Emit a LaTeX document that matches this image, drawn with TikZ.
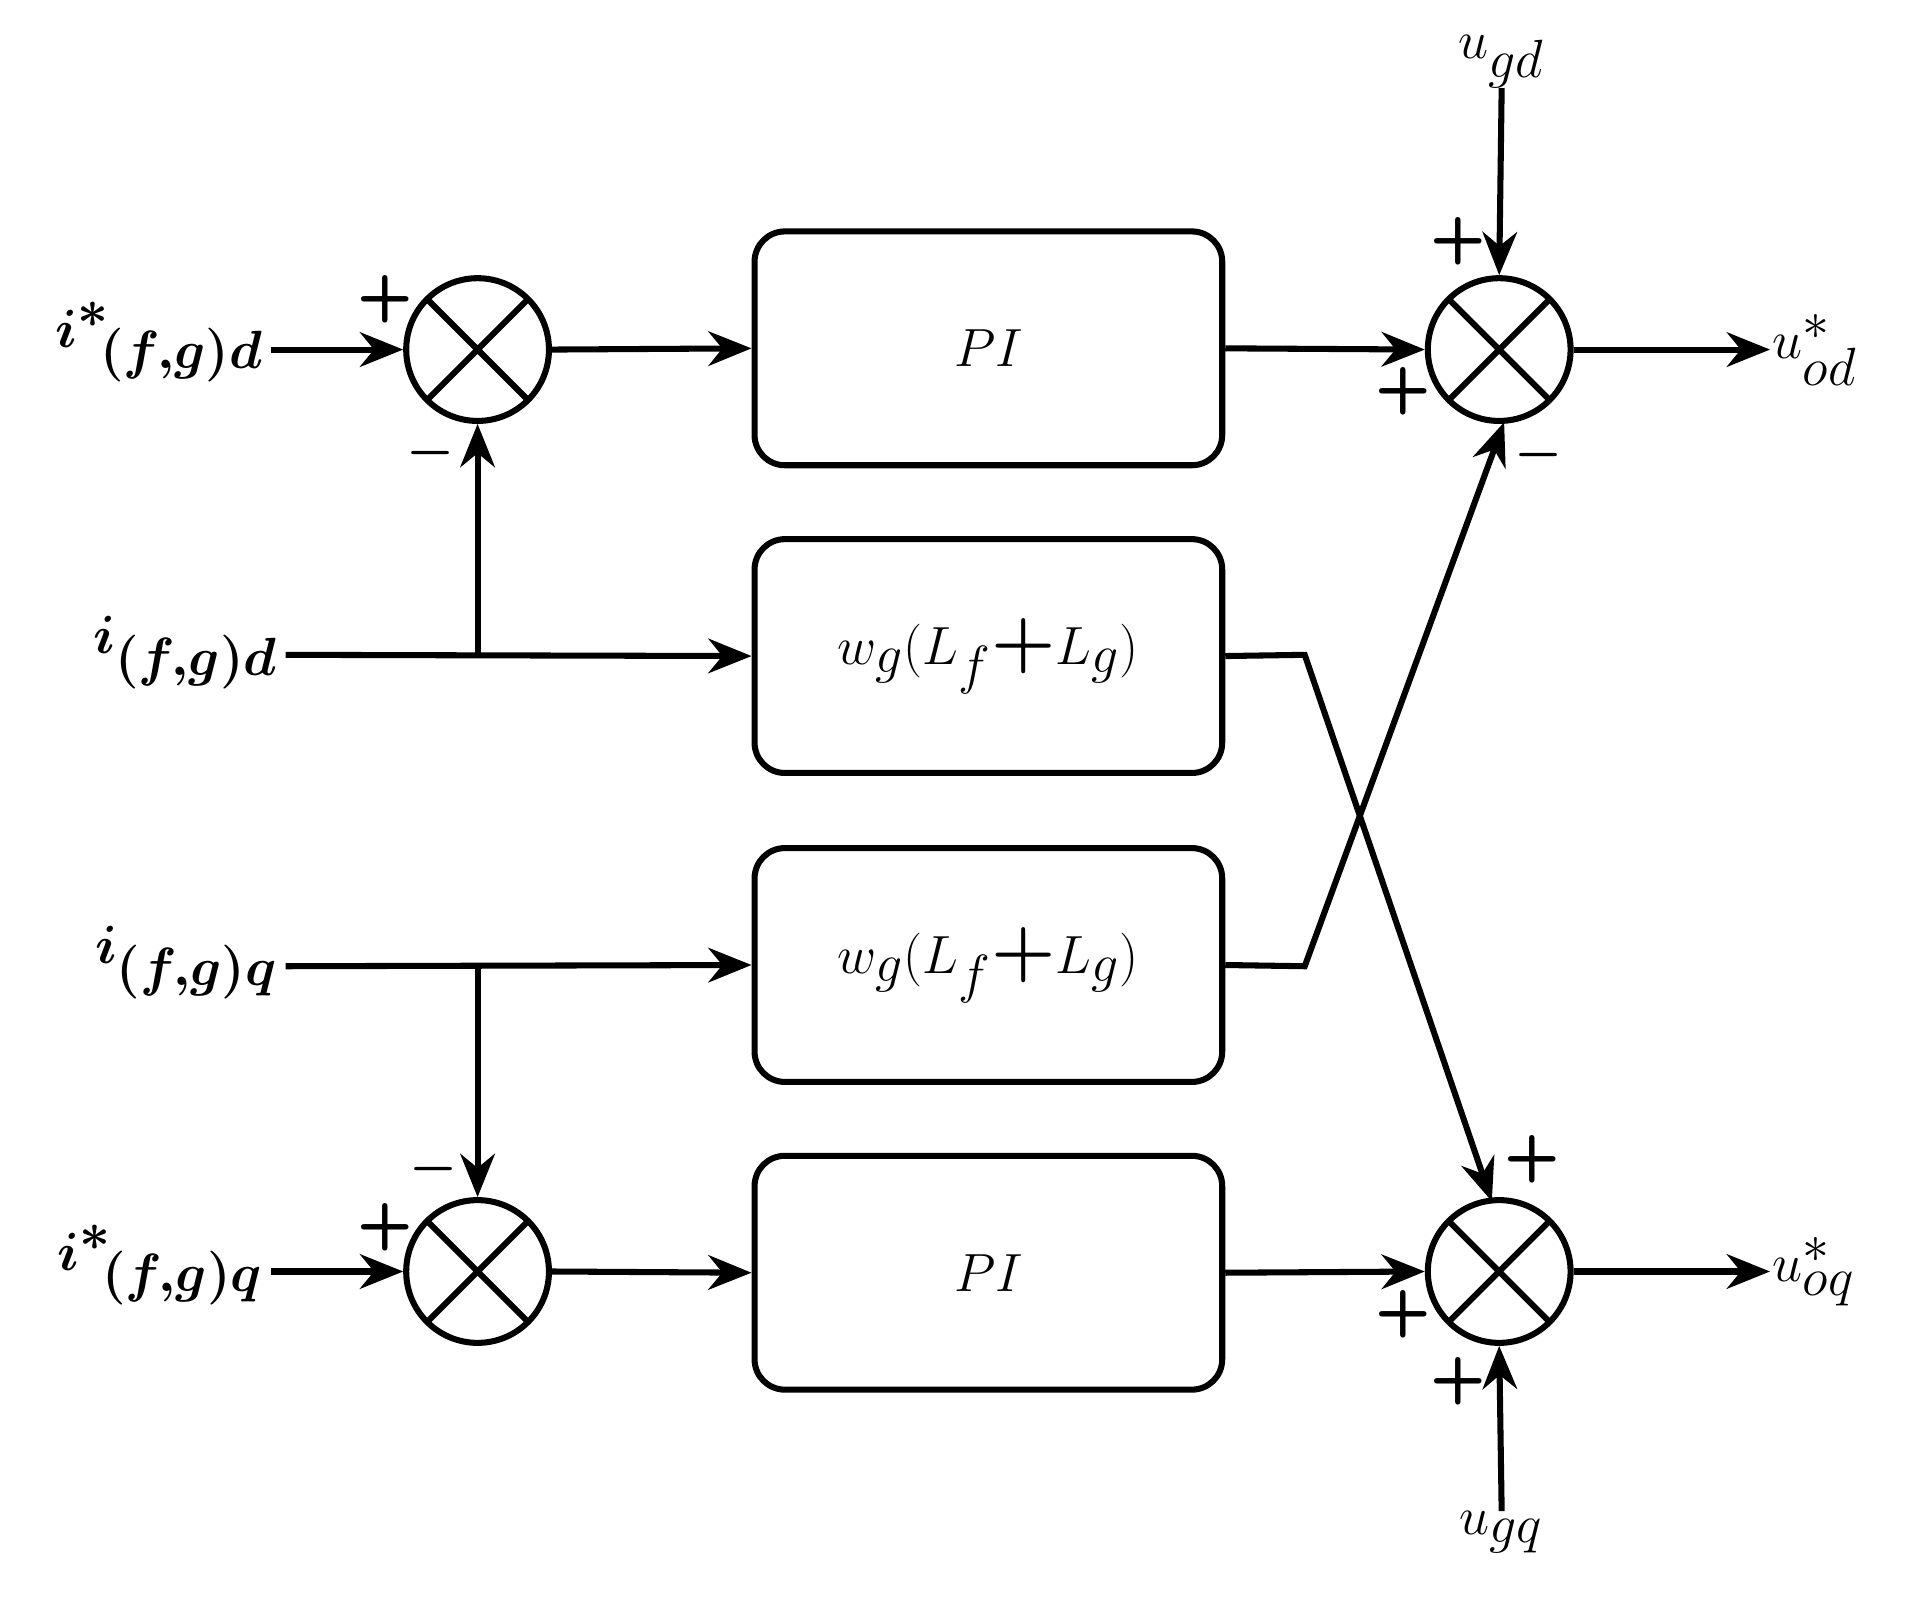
\documentclass[tikz,border=0pt]{standalone}
\usepackage{amsmath,bm}
\usetikzlibrary{arrows.meta}
\begin{document}
\begin{tikzpicture}[x=0.02cm,y=-0.02cm,
  ln/.style={line width=2.8pt},
  ar/.style={ln,-{Stealth[length=20pt,width=16pt]}},
  blk/.style={draw,line width=2.8pt,rounded corners=14pt,minimum width=7.6cm,minimum height=3.8cm,font=\fontsize{40}{48}\selectfont},
  sum/.style={draw,circle,line width=2.8pt,minimum size=2.32cm,inner sep=0pt,
    path picture={\draw[line width=2.8pt] (path picture bounding box.north west)--(path picture bounding box.south east) (path picture bounding box.north east)--(path picture bounding box.south west);}},
  lab/.style={font=\fontsize{44}{52}\selectfont,inner sep=0pt},
  sg/.style={font=\sffamily\bfseries\fontsize{30}{34}\selectfont,inner sep=0pt}]
\useasboundingbox (0,0) rectangle (1568,1311);
\node[sum] (s1) at (388,284) {};
\node[sum] (s2) at (1218,284) {};
\node[sum] (s3) at (388,1033) {};
\node[sum] (s4) at (1218,1033) {};
\node[blk] (b1) at (803,283) {$PI$};
\node[blk,font=\fontsize{34}{40}\selectfont] (b2) at (803,533) {$w_g(L_f\textbf{+}L_g)$};
\node[blk,font=\fontsize{34}{40}\selectfont] (b3) at (803,784) {$w_g(L_f\textbf{+}L_g)$};
\node[blk] (b4) at (803,1034) {$PI$};
\node[lab,anchor=east] (id) at (214,278) {$\bm{i^*\!_{(f,g)d}}$};
\node[lab,anchor=east] (idm) at (226,530) {$\bm{i_{(f,g)d}}$};
\node[lab,anchor=east] (iqm) at (226,782) {$\bm{i_{(f,g)q}}$};
\node[lab,anchor=east] (iq) at (214,1028) {$\bm{i^*\!_{(f,g)q}}$};
\node[lab] (ugd) at (1220,50) {$u_{gd}$};
\node[lab] (ugq) at (1220,1245) {$u_{gq}$};
\node[lab,anchor=west] (uod) at (1440,284) {$u^*_{od}$};
\node[lab,anchor=west] (uoq) at (1440,1033) {$u^*_{oq}$};
\coordinate (jd) at (388,532);
\coordinate (jq) at (388,785);
\coordinate (k2) at (1060,532);
\coordinate (k3) at (1060,785);
\coordinate (e1) at (220,284);
\coordinate (e2) at (232,532);
\coordinate (e3) at (232,785);
\coordinate (e4) at (220,1033);
\coordinate (o1) at (1438,284);
\coordinate (o2) at (1438,1033);
\draw[ar] (e1) -- (s1.west);
\draw[ar] (e4) -- (s3.west);
\draw[ar] (e2) -- (b2.west);
\draw[ar] (e3) -- (b3.west);
\draw[ar] (jd) -- (s1.south);
\draw[ar] (jq) -- (s3.north);
\draw[ar] (s1.east) -- (b1.west);
\draw[ar] (s3.east) -- (b4.west);
\draw[ar] (b1.east) -- (s2.west);
\draw[ar] (b4.east) -- (s4.west);
\draw[ar] (s2.east) -- (o1);
\draw[ar] (s4.east) -- (o2);
\draw[ar] (ugd.south) -- (s2.north);
\draw[ar] (ugq.north) -- (s4.south);
\draw[ar] (b2.east) -- (k2) -- (1212,976);
\draw[ar] (b3.east) -- (k3) -- (1222,343);
\node[sg] at (313,243) {+};
\node[sg] at (350,368) {$\bm{-}$};
\node[sg] at (1185,196) {+};
\node[sg] at (1140,318) {+};
\node[sg] at (1250,370) {$\bm{-}$};
\node[sg] at (1245,942) {+};
\node[sg] at (1140,1068) {+};
\node[sg] at (1185,1122) {+};
\node[sg] at (352,950) {$\bm{-}$};
\node[sg] at (313,997) {+};
\end{tikzpicture}
\end{document}
